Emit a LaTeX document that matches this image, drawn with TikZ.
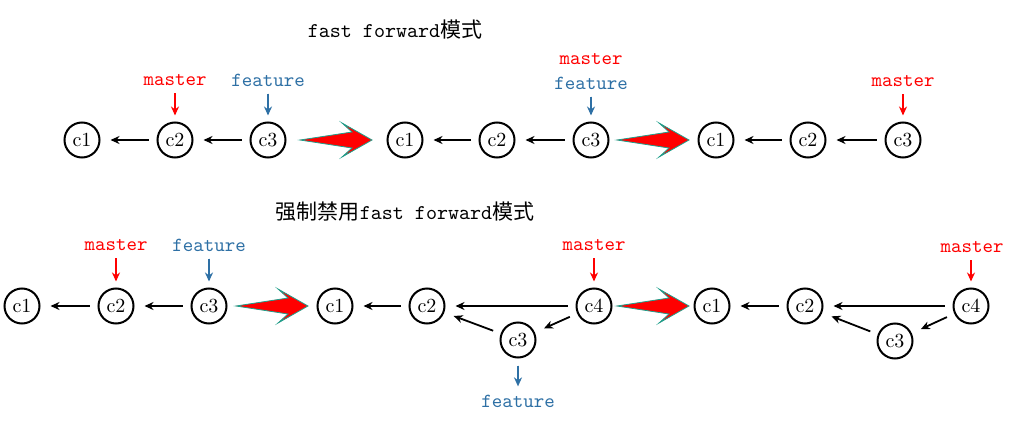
\documentclass[tikz,border=0pt]{standalone}
\usepackage{fontspec}
\newfontfamily\cjk{Noto Sans CJK SC}
\usetikzlibrary{arrows.meta}
\definecolor{mred}{RGB}{255,0,0}
\definecolor{fblue}{RGB}{46,112,165}
\definecolor{tealedge}{RGB}{30,160,140}
\begin{document}
\begin{tikzpicture}[x=0.5pt,y=-0.5pt,
  commit/.style={circle,draw,line width=1pt,minimum size=17.5pt,inner sep=0pt,font=\fontsize{10}{11}\selectfont},
  link/.style={-{Stealth[length=4.5pt,width=4pt]},line width=0.9pt,shorten <=4pt,shorten >=5pt},
  lbl/.style={font=\ttfamily\fontsize{10}{12}\selectfont,inner sep=1pt},
  mlabel/.style={lbl,text=mred},
  flabel/.style={lbl,text=fblue},
  ptr/.style={-{Stealth[length=4.5pt,width=4pt]},line width=0.8pt,shorten <=2.5pt,shorten >=3pt},
  mptr/.style={ptr,draw=mred,fill=mred},
  fptr/.style={ptr,draw=fblue,fill=fblue},
  title/.style={font=\ttfamily\fontsize{10.5}{12}\selectfont,inner sep=1pt},
  bigarrow/.pic={\draw[fill=red,draw=tealedge,line width=0.4pt] (0,0) -- (52,-8) -- (42,-17) -- (72,0) -- (42,17) -- (52,8) -- cycle;}
]
\useasboundingbox (0,0) rectangle (1018,423);

% titles
\node[title] (t1) at (395,30) {fast forward{\cjk 模式}};
\node[title] (t2) at (405,212) {{\cjk 强制禁用}fast forward{\cjk 模式}};

% row 1, group A
\node[commit] (a1) at (82,140) {c1};
\node[commit] (a2) at (175,140) {c2};
\node[commit] (a3) at (268,140) {c3};
\draw[link] (a2) -- (a1);
\draw[link] (a3) -- (a2);
\node[mlabel] (am) at (175,80) {master};
\node[flabel] (af) at (268,80) {feature};
\draw[mptr] (am.south) -- (a2.north);
\draw[fptr] (af.south) -- (a3.north);

% row 1, group B
\node[commit] (b1) at (405,140) {c1};
\node[commit] (b2) at (497,140) {c2};
\node[commit] (b3) at (591,140) {c3};
\draw[link] (b2) -- (b1);
\draw[link] (b3) -- (b2);
\node[mlabel] (bm) at (591,59) {master};
\node[flabel] (bf) at (591,83) {feature};
\draw[fptr] (bf.south) -- (b3.north);

% row 1, group C
\node[commit] (c1) at (716,140) {c1};
\node[commit] (c2) at (808,140) {c2};
\node[commit] (c3) at (903,140) {c3};
\draw[link] (c2) -- (c1);
\draw[link] (c3) -- (c2);
\node[mlabel] (cm) at (903,81) {master};
\draw[mptr] (cm.south) -- (c3.north);

% row 2, group D
\node[commit] (d1) at (22,306) {c1};
\node[commit] (d2) at (116,306) {c2};
\node[commit] (d3) at (209,306) {c3};
\draw[link] (d2) -- (d1);
\draw[link] (d3) -- (d2);
\node[mlabel] (dm) at (116,245) {master};
\node[flabel] (df) at (209,245) {feature};
\draw[mptr] (dm.south) -- (d2.north);
\draw[fptr] (df.south) -- (d3.north);

% row 2, group E
\node[commit] (e1) at (335,306) {c1};
\node[commit] (e2) at (427,306) {c2};
\node[commit] (e4) at (594,306) {c4};
\node[commit] (e3) at (518,340) {c3};
\draw[link] (e2) -- (e1);
\draw[link] (e4) -- (e2);
\draw[link] (e3) -- (e2);
\draw[link] (e4) -- (e3);
\node[mlabel] (em) at (594,245) {master};
\node[flabel] (ef) at (518,401) {feature};
\draw[mptr] (em.south) -- (e4.north);
\draw[fptr,shorten <=3.5pt] (e3.south) -- (ef.north);

% row 2, group F
\node[commit] (f1) at (712,306) {c1};
\node[commit] (f2) at (805,306) {c2};
\node[commit] (f4) at (971,306) {c4};
\node[commit] (f3) at (895,341) {c3};
\draw[link] (f2) -- (f1);
\draw[link] (f4) -- (f2);
\draw[link] (f3) -- (f2);
\draw[link] (f4) -- (f3);
\node[mlabel] (fm) at (972,247) {master};
\draw[mptr] (fm.south -| f4) -- (f4.north);

% big transition arrows
\pic at (300,140) {bigarrow};
\pic at (617,140) {bigarrow};
\pic at (236,306) {bigarrow};
\pic at (617,306) {bigarrow};
\end{tikzpicture}
\end{document}
